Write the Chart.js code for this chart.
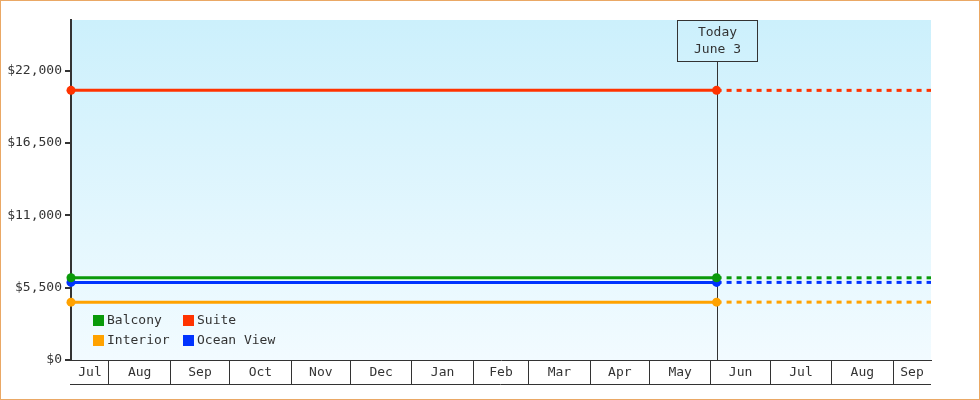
<!DOCTYPE html>
<html>
<head>
<meta charset="utf-8">
<title>Cabin rates</title>
<script src="https://cdn.jsdelivr.net/npm/chart.js@4.4.0/dist/chart.umd.min.js"></script>
<style>
    html, body {
        margin: 0;
        padding: 0;
        background: #ffffff;
    }

    #frame {
        position: absolute;
        left: 0;
        top: 0;
        width: 980px;
        height: 400px;
        box-sizing: border-box;
        border: 1px solid #eaa865;
    }

    #chart-box {
        position: absolute;
        left: 0;
        top: 0;
        width: 978px;
        height: 398px;
    }
</style>
</head>
<body>
<div id="frame">
    <div id="chart-box">
        <canvas id="rate-chart"></canvas>
    </div>
</div>

<script>
/* ===========================
   DATA
=========================== */

const seriesNames = ["Balcony", "Suite", "Interior", "Ocean View"];
const seriesColors = ["#0a9a0a", "#ff3300", "#ffa200", "#0033ff"];
const seriesValues = [6250, 20500, 4400, 5900];

const monthLabels = [
    "Jul", "Aug", "Sep", "Oct", "Nov", "Dec", "Jan", "Feb",
    "Mar", "Apr", "May", "Jun", "Jul", "Aug", "Sep"
];

const yTickValues = [0, 5500, 11000, 16500, 22000];
const yMax = 25850;

const rangeStart = "2022-07-12T20:00Z";
const rangeEnd = "2023-09-20T04:00Z";
const todayDate = "2023-06-03T21:00Z";
const todayLabel = ["Today", "June 3"];

/* ===========================
   HELPERS
=========================== */

const DAY = 86400000;
const startMs = Date.parse(rangeStart);

function dayOf(ms) {
    return (ms - startMs) / DAY;
}

const totalDays = dayOf(Date.parse(rangeEnd));
const todayDay = dayOf(Date.parse(todayDate));

// month boundaries (first day of each month inside the range)
const startDate = new Date(startMs);
const monthEdges = [];
for (let i = 1; i < monthLabels.length; i++) {
    const d = Date.UTC(startDate.getUTCFullYear(), startDate.getUTCMonth() + i, 1);
    monthEdges.push(dayOf(d));
}

const cellEdges = [0, ...monthEdges, totalDays];
const monthMids = monthLabels.map((_, i) => (cellEdges[i] + cellEdges[i + 1]) / 2);

const INK = "#333333";
const FONT = '"DejaVu Sans Mono", monospace';

Chart.defaults.font.family = FONT;
Chart.defaults.font.size = 13;
Chart.defaults.color = INK;

/* ===========================
   DATASETS
=========================== */

const datasets = [];

seriesNames.forEach((name, i) => {
    const v = seriesValues[i];

    datasets.push({
        label: name,
        data: [{ x: 0, y: v }, { x: todayDay, y: v }],
        borderColor: seriesColors[i],
        backgroundColor: seriesColors[i],
        pointBackgroundColor: seriesColors[i],
        borderWidth: 3,
        pointRadius: 4.5,
        pointBorderWidth: 0,
        clip: false,
        order: 1
    });

    datasets.push({
        label: name + " forecast",
        data: [{ x: todayDay, y: v }, { x: totalDays, y: v }],
        borderColor: seriesColors[i],
        borderWidth: 3,
        borderDash: [5, 5],
        pointRadius: 0,
        clip: false,
        order: 2
    });
});

/* ===========================
   PLUGINS
=========================== */

const areaBackground = {
    id: "areaBackground",
    beforeDraw(chart) {
        const { ctx, chartArea: a } = chart;
        const g = ctx.createLinearGradient(0, a.top, 0, a.bottom);
        g.addColorStop(0, "#ccf0fc");
        g.addColorStop(1, "#f2fbff");
        ctx.save();
        ctx.fillStyle = g;
        ctx.fillRect(a.left, a.top, a.right - a.left, a.bottom - a.top);
        ctx.restore();
    }
};

const todayMarker = {
    id: "todayMarker",
    beforeDatasetsDraw(chart) {
        const { ctx, chartArea: a } = chart;
        const x = Math.round(chart.scales.x.getPixelForValue(todayDay)) + 0.5;
        const boxW = 80;
        const boxH = 41;
        const top = a.top + 0.5;

        ctx.save();
        ctx.strokeStyle = INK;
        ctx.lineWidth = 1;

        ctx.beginPath();
        ctx.moveTo(x, top + boxH);
        ctx.lineTo(x, a.bottom);
        ctx.stroke();

        ctx.strokeRect(x - boxW / 2, top, boxW, boxH);

        ctx.fillStyle = INK;
        ctx.font = "13px " + FONT;
        ctx.textAlign = "center";
        ctx.textBaseline = "middle";
        ctx.fillText(todayLabel[0], x, top + 12);
        ctx.fillText(todayLabel[1], x, top + 29);
        ctx.restore();
    }
};

const axisFrame = {
    id: "axisFrame",
    afterDraw(chart) {
        const { ctx, chartArea: a } = chart;
        const y = a.bottom + 24.5;
        ctx.save();
        ctx.strokeStyle = INK;
        ctx.lineWidth = 1;
        ctx.beginPath();
        ctx.moveTo(a.left - 1, y);
        ctx.lineTo(a.right, y);
        ctx.stroke();
        ctx.restore();
    }
};

const boxLegend = {
    id: "boxLegend",
    afterDraw(chart) {
        const { ctx, chartArea: a } = chart;
        ctx.save();
        ctx.font = "13px " + FONT;
        ctx.textAlign = "left";
        ctx.textBaseline = "middle";

        seriesNames.forEach((name, i) => {
            const col = i % 2;
            const row = Math.floor(i / 2);
            const x = a.left + 22 + col * 90;
            const y = a.bottom - 45 + row * 20;

            ctx.fillStyle = seriesColors[i];
            ctx.fillRect(x, y, 11, 11);

            ctx.fillStyle = INK;
            ctx.fillText(name, x + 14, y + 6);
        });

        ctx.restore();
    }
};

/* ===========================
   CHART
=========================== */

const canvas = document.getElementById("rate-chart");

new Chart(canvas, {
    type: "line",

    data: { datasets: datasets },

    options: {
        responsive: true,
        maintainAspectRatio: false,
        animation: false,

        layout: {
            padding: { top: 19, right: 48, left: 0, bottom: 0 }
        },

        plugins: {
            legend: { display: false },
            tooltip: { enabled: false }
        },

        scales: {
            x: {
                type: "linear",
                min: 0,
                max: totalDays,
                afterBuildTicks(scale) {
                    const all = monthEdges.concat(monthMids).sort((p, q) => p - q);
                    scale.ticks = all.map(v => ({ value: v }));
                },
                afterFit(scale) {
                    scale.height = 39;
                },
                ticks: {
                    autoSkip: false,
                    maxRotation: 0,
                    minRotation: 0,
                    padding: -19,
                    color: INK,
                    callback(value) {
                        const i = monthMids.indexOf(value);
                        return i >= 0 ? monthLabels[i] : "";
                    }
                },
                grid: {
                    drawOnChartArea: false,
                    drawTicks: true,
                    tickLength: 24,
                    lineWidth: 1,
                    color(ctx) {
                        const v = ctx.tick ? ctx.tick.value : null;
                        return monthEdges.includes(v) ? INK : "rgba(0,0,0,0)";
                    }
                },
                border: {
                    display: true,
                    color: INK,
                    width: 1
                }
            },

            y: {
                min: 0,
                max: yMax,
                afterBuildTicks(scale) {
                    scale.ticks = yTickValues.map(v => ({ value: v }));
                },
                afterFit(scale) {
                    scale.width = 70;
                },
                ticks: {
                    padding: 3,
                    color: INK,
                    callback(value) {
                        return "$" + value.toLocaleString("en-US");
                    }
                },
                grid: {
                    drawOnChartArea: false,
                    drawTicks: true,
                    tickLength: 6,
                    lineWidth: 2,
                    color: INK
                },
                border: {
                    display: true,
                    color: INK,
                    width: 2
                }
            }
        }
    },

    plugins: [areaBackground, todayMarker, axisFrame, boxLegend]
});
</script>
</body>
</html>
